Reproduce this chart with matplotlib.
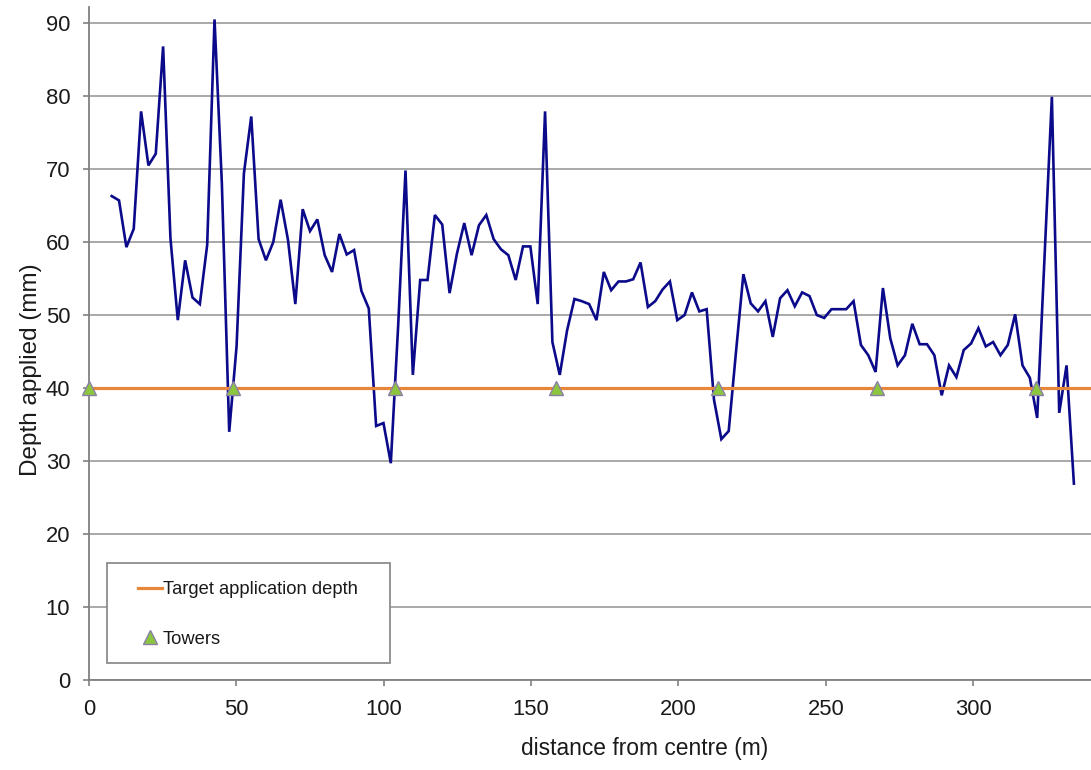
import numpy as np
import matplotlib
matplotlib.use("Agg")
import matplotlib.pyplot as plt
from matplotlib.patches import Rectangle

# ---- data ----
depth_applied = [
    66.3, 65.7, 59.3, 61.8, 77.9, 70.5, 72.1, 86.8, 60.5, 49.3,
    57.5, 52.4, 51.5, 59.6, 90.5, 68.0, 34.0, 45.7, 69.4, 77.2,
    60.4, 57.5, 60.0, 65.8, 60.3, 51.5, 64.5, 61.5, 63.1, 58.2,
    55.9, 61.1, 58.3, 58.9, 53.3, 50.9, 34.8, 35.2, 29.7, 48.5,
    69.8, 41.8, 54.8, 54.8, 63.7, 62.4, 53.0, 58.4, 62.6, 58.2,
    62.3, 63.7, 60.4, 59.0, 58.2, 54.8, 59.4, 59.4, 51.5, 77.9,
    46.3, 41.8, 47.9, 52.2, 51.9, 51.5, 49.3, 55.9, 53.4, 54.6,
    54.6, 54.9, 57.2, 51.1, 51.9, 53.5, 54.6, 49.3, 50.0, 53.1,
    50.5, 50.8, 38.4, 33.0, 34.1, 45.0, 55.6, 51.6, 50.5, 51.9,
    47.0, 52.3, 53.4, 51.2, 53.1, 52.6, 50.0, 49.6, 50.8, 50.8,
    50.8, 51.9, 45.9, 44.5, 42.2, 53.7, 46.8, 43.1, 44.5, 48.8,
    46.0, 46.0, 44.5, 39.0, 43.1, 41.5, 45.2, 46.1, 48.2, 45.7,
    46.3, 44.5, 45.9, 50.1, 43.1, 41.4, 35.9, 58.0, 79.9, 36.6,
    43.1, 26.9,
]
first_distance = 7.7
last_distance = 334.2
distance = np.linspace(first_distance, last_distance, len(depth_applied))

target_depth = 40
tower_distance = [0, 49, 104, 158.5, 213.5, 267.5, 321.5]
tower_depth = [40, 40, 40, 40, 40, 40, 40]

x_ticks = [0, 50, 100, 150, 200, 250, 300]
y_ticks = [0, 10, 20, 30, 40, 50, 60, 70, 80, 90]

# ---- styling ----
plt.rcParams['font.family'] = ['Liberation Sans', 'DejaVu Sans']
TXT = '#1a1a1a'
GRID = '#9a9a9a'
AX = '#808080'

W, H = 1091, 770
fig = plt.figure(figsize=(W / 100, H / 100), dpi=100)
ax = fig.add_axes([89 / W, 90 / H, (W - 89) / W, (763 - 90) / H])

ax.plot(distance, depth_applied, color='#0a0a8a', lw=1.9, zorder=3,
        solid_joinstyle='miter')
tgt = ax.axhline(target_depth, color='#e8873a', lw=2.3, zorder=4,
                 label='Target application depth')
tw, = ax.plot(tower_distance, tower_depth, linestyle='none', marker='^',
              markersize=10, markerfacecolor='#8cc63f', markeredgecolor='#8a7fa8',
              markeredgewidth=1.0, zorder=5, clip_on=False, label='Towers')

ax.set_xlim(0, 340)
ax.set_ylim(0, 92.2)
ax.set_xticks(x_ticks)
ax.set_yticks(y_ticks)
ax.yaxis.grid(True, color=GRID, lw=1.2, zorder=0)
ax.set_axisbelow(True)

for s in ['top', 'right']:
    ax.spines[s].set_visible(False)
for s in ['left', 'bottom']:
    ax.spines[s].set_color(AX)
    ax.spines[s].set_linewidth(1.3)

ax.tick_params(axis='both', direction='out', length=4.5, width=1.2, color=AX,
               labelsize=15.8, labelcolor=TXT, pad=9)

ax.set_xlabel('distance from centre (m)', fontsize=16.4, color=TXT)
ax.set_ylabel('Depth applied (mm)', fontsize=17.5, color=TXT)
ax.xaxis.label.set_va('center')
ax.yaxis.label.set_va('center')
ax.xaxis.set_label_coords((645 - 89) / 1002, (680 - 748) / 673)
ax.yaxis.set_label_coords((31 - 89) / 1002, (680 - 370) / 673)

# legend frame
rect = Rectangle((107 / W, (H - 663) / H), 283 / W, 100 / H,
                 transform=fig.transFigure, facecolor='white',
                 edgecolor='#8c8c8c', lw=1.3, zorder=6)
fig.patches.append(rect)

leg = fig.legend(handles=[tgt, tw], loc='upper left',
                 bbox_to_anchor=(138 / W, (H - 581) / H),
                 frameon=False, fontsize=13.2, handlelength=1.3,
                 handletextpad=0.05, labelspacing=1.78, borderpad=0,
                 borderaxespad=0, numpoints=1, labelcolor=TXT)
leg.set_zorder(7)

fig.savefig('out.png', dpi=100)
